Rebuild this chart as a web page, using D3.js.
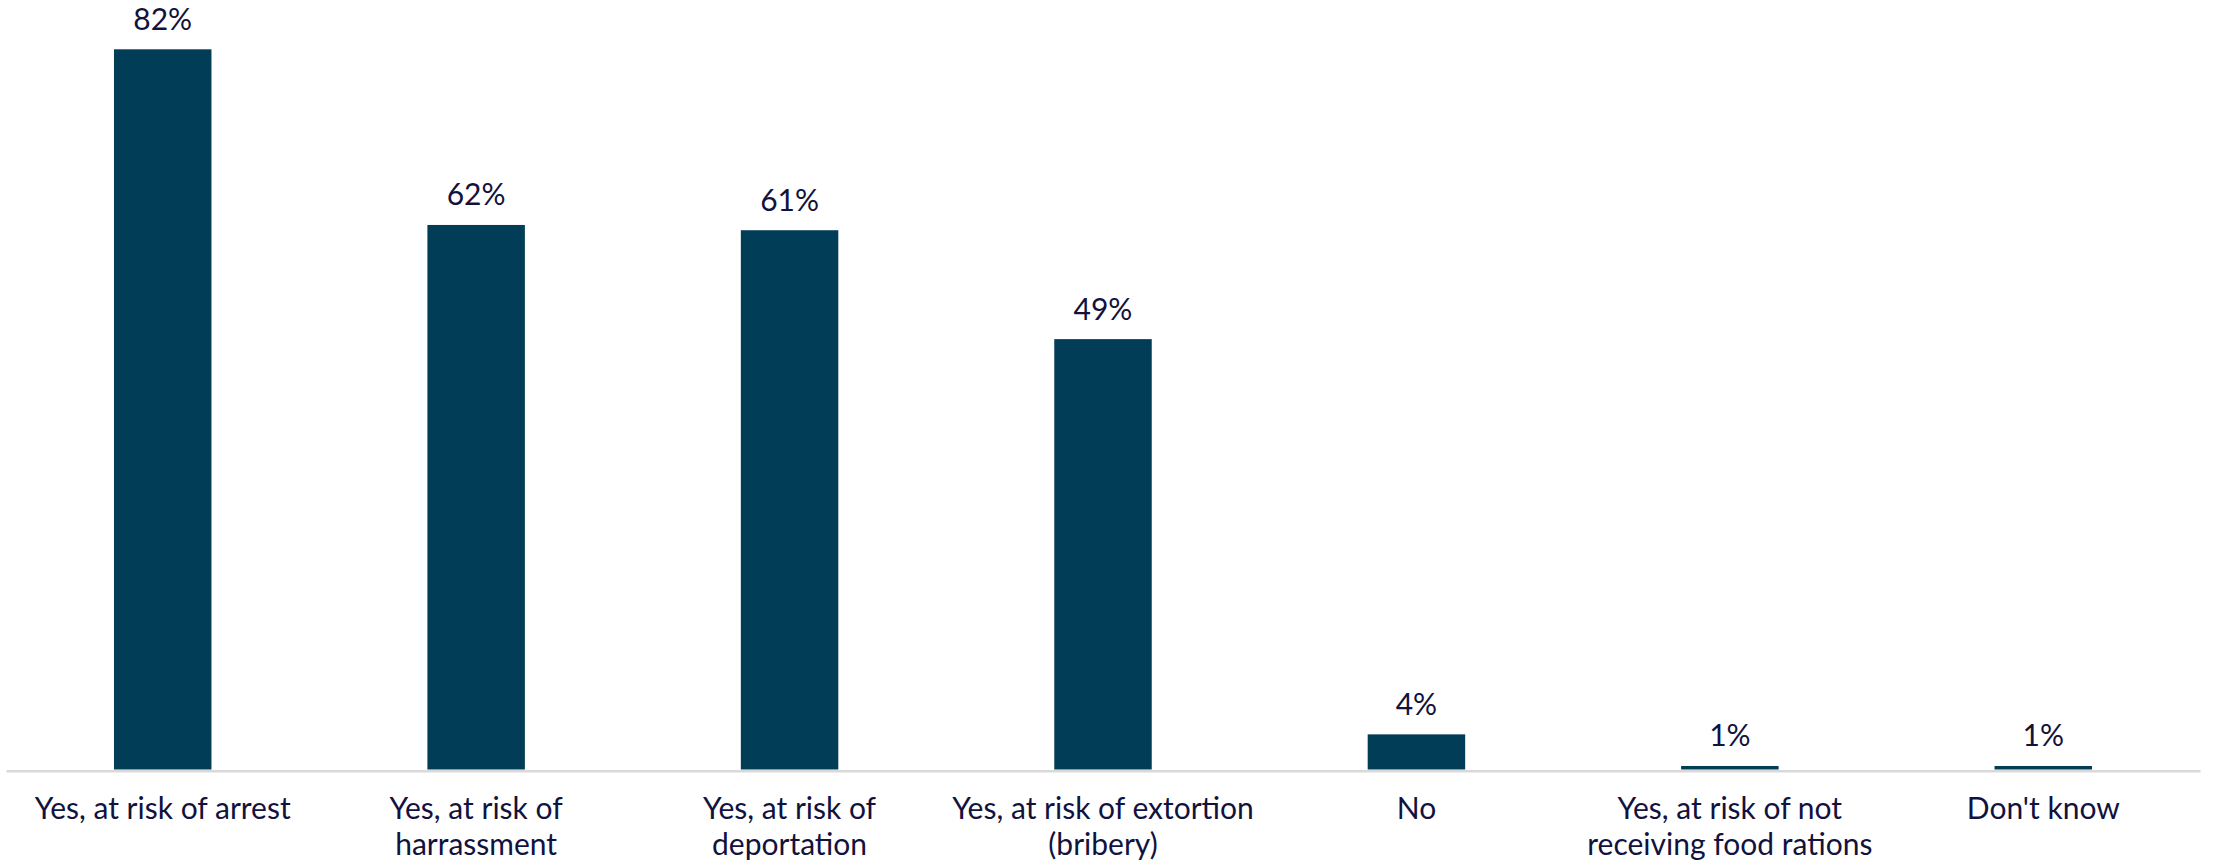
<!DOCTYPE html>
<html>
<head>
<meta charset="utf-8">
<script src="https://cdn.jsdelivr.net/npm/d3@7"></script>
<style>
  html, body { margin: 0; padding: 0; background: #ffffff; }
  svg { display: block; }
</style>
</head>
<body>
<div id="chart"></div>
<script>
const categories = [
  "Yes, at risk of arrest",
  "Yes, at risk of\nharrassment",
  "Yes, at risk of\ndeportation",
  "Yes, at risk of extortion\n(bribery)",
  "No",
  "Yes, at risk of not\nreceiving food rations",
  "Don't know"
];
const values = [82, 62, 61.4, 49, 4, 0.4, 0.4];
const valueLabels = ["82%", "62%", "61%", "49%", "4%", "1%", "1%"];

const W = 2213, H = 867;
const svg = d3.select("#chart").append("svg")
  .attr("width", W).attr("height", H);

const x = d3.scaleBand()
  .domain(categories)
  .range([6, 2200])
  .paddingInner(0.689)
  .paddingOuter(0.3445);

const y = d3.scaleLinear()
  .domain([0, 82])
  .range([769.5, 49.3]);

const fontFamily = "Lato, 'Open Sans', sans-serif";
const textColor = "#12123e";
const barColor = "#023d57";

// axis
const axis = svg.append("g")
  .attr("transform", "translate(0,770.8)")
  .call(d3.axisBottom(x).tickSize(0).tickSizeOuter(0).tickFormat(""));
axis.select(".domain").attr("stroke", "#d9d9d9").attr("stroke-width", 2.6);

// bars
svg.append("g").selectAll("rect")
  .data(categories)
  .join("rect")
  .attr("x", d => x(d))
  .attr("width", x.bandwidth())
  .attr("y", (d, i) => y(values[i]))
  .attr("height", (d, i) => y(0) - y(values[i]))
  .attr("fill", barColor);

// value labels
svg.append("g").selectAll("text")
  .data(categories)
  .join("text")
  .attr("x", d => x(d) + x.bandwidth() / 2)
  .attr("y", (d, i) => y(values[i]) - 19.5)
  .attr("text-anchor", "middle")
  .attr("font-family", fontFamily)
  .attr("font-size", 30)
  .attr("fill", textColor)
  .text((d, i) => valueLabels[i]);

// category labels
const cat = svg.append("g").selectAll("text")
  .data(categories)
  .join("text")
  .attr("text-anchor", "middle")
  .attr("font-family", fontFamily)
  .attr("font-size", 30)
  .attr("fill", textColor);
cat.each(function(d) {
  const t = d3.select(this);
  const cx = x(d) + x.bandwidth() / 2;
  d.split("\n").forEach((line, j) => {
    t.append("tspan")
      .attr("x", cx)
      .attr("y", 819 + j * 36)
      .text(line);
  });
});
</script>
</body>
</html>
